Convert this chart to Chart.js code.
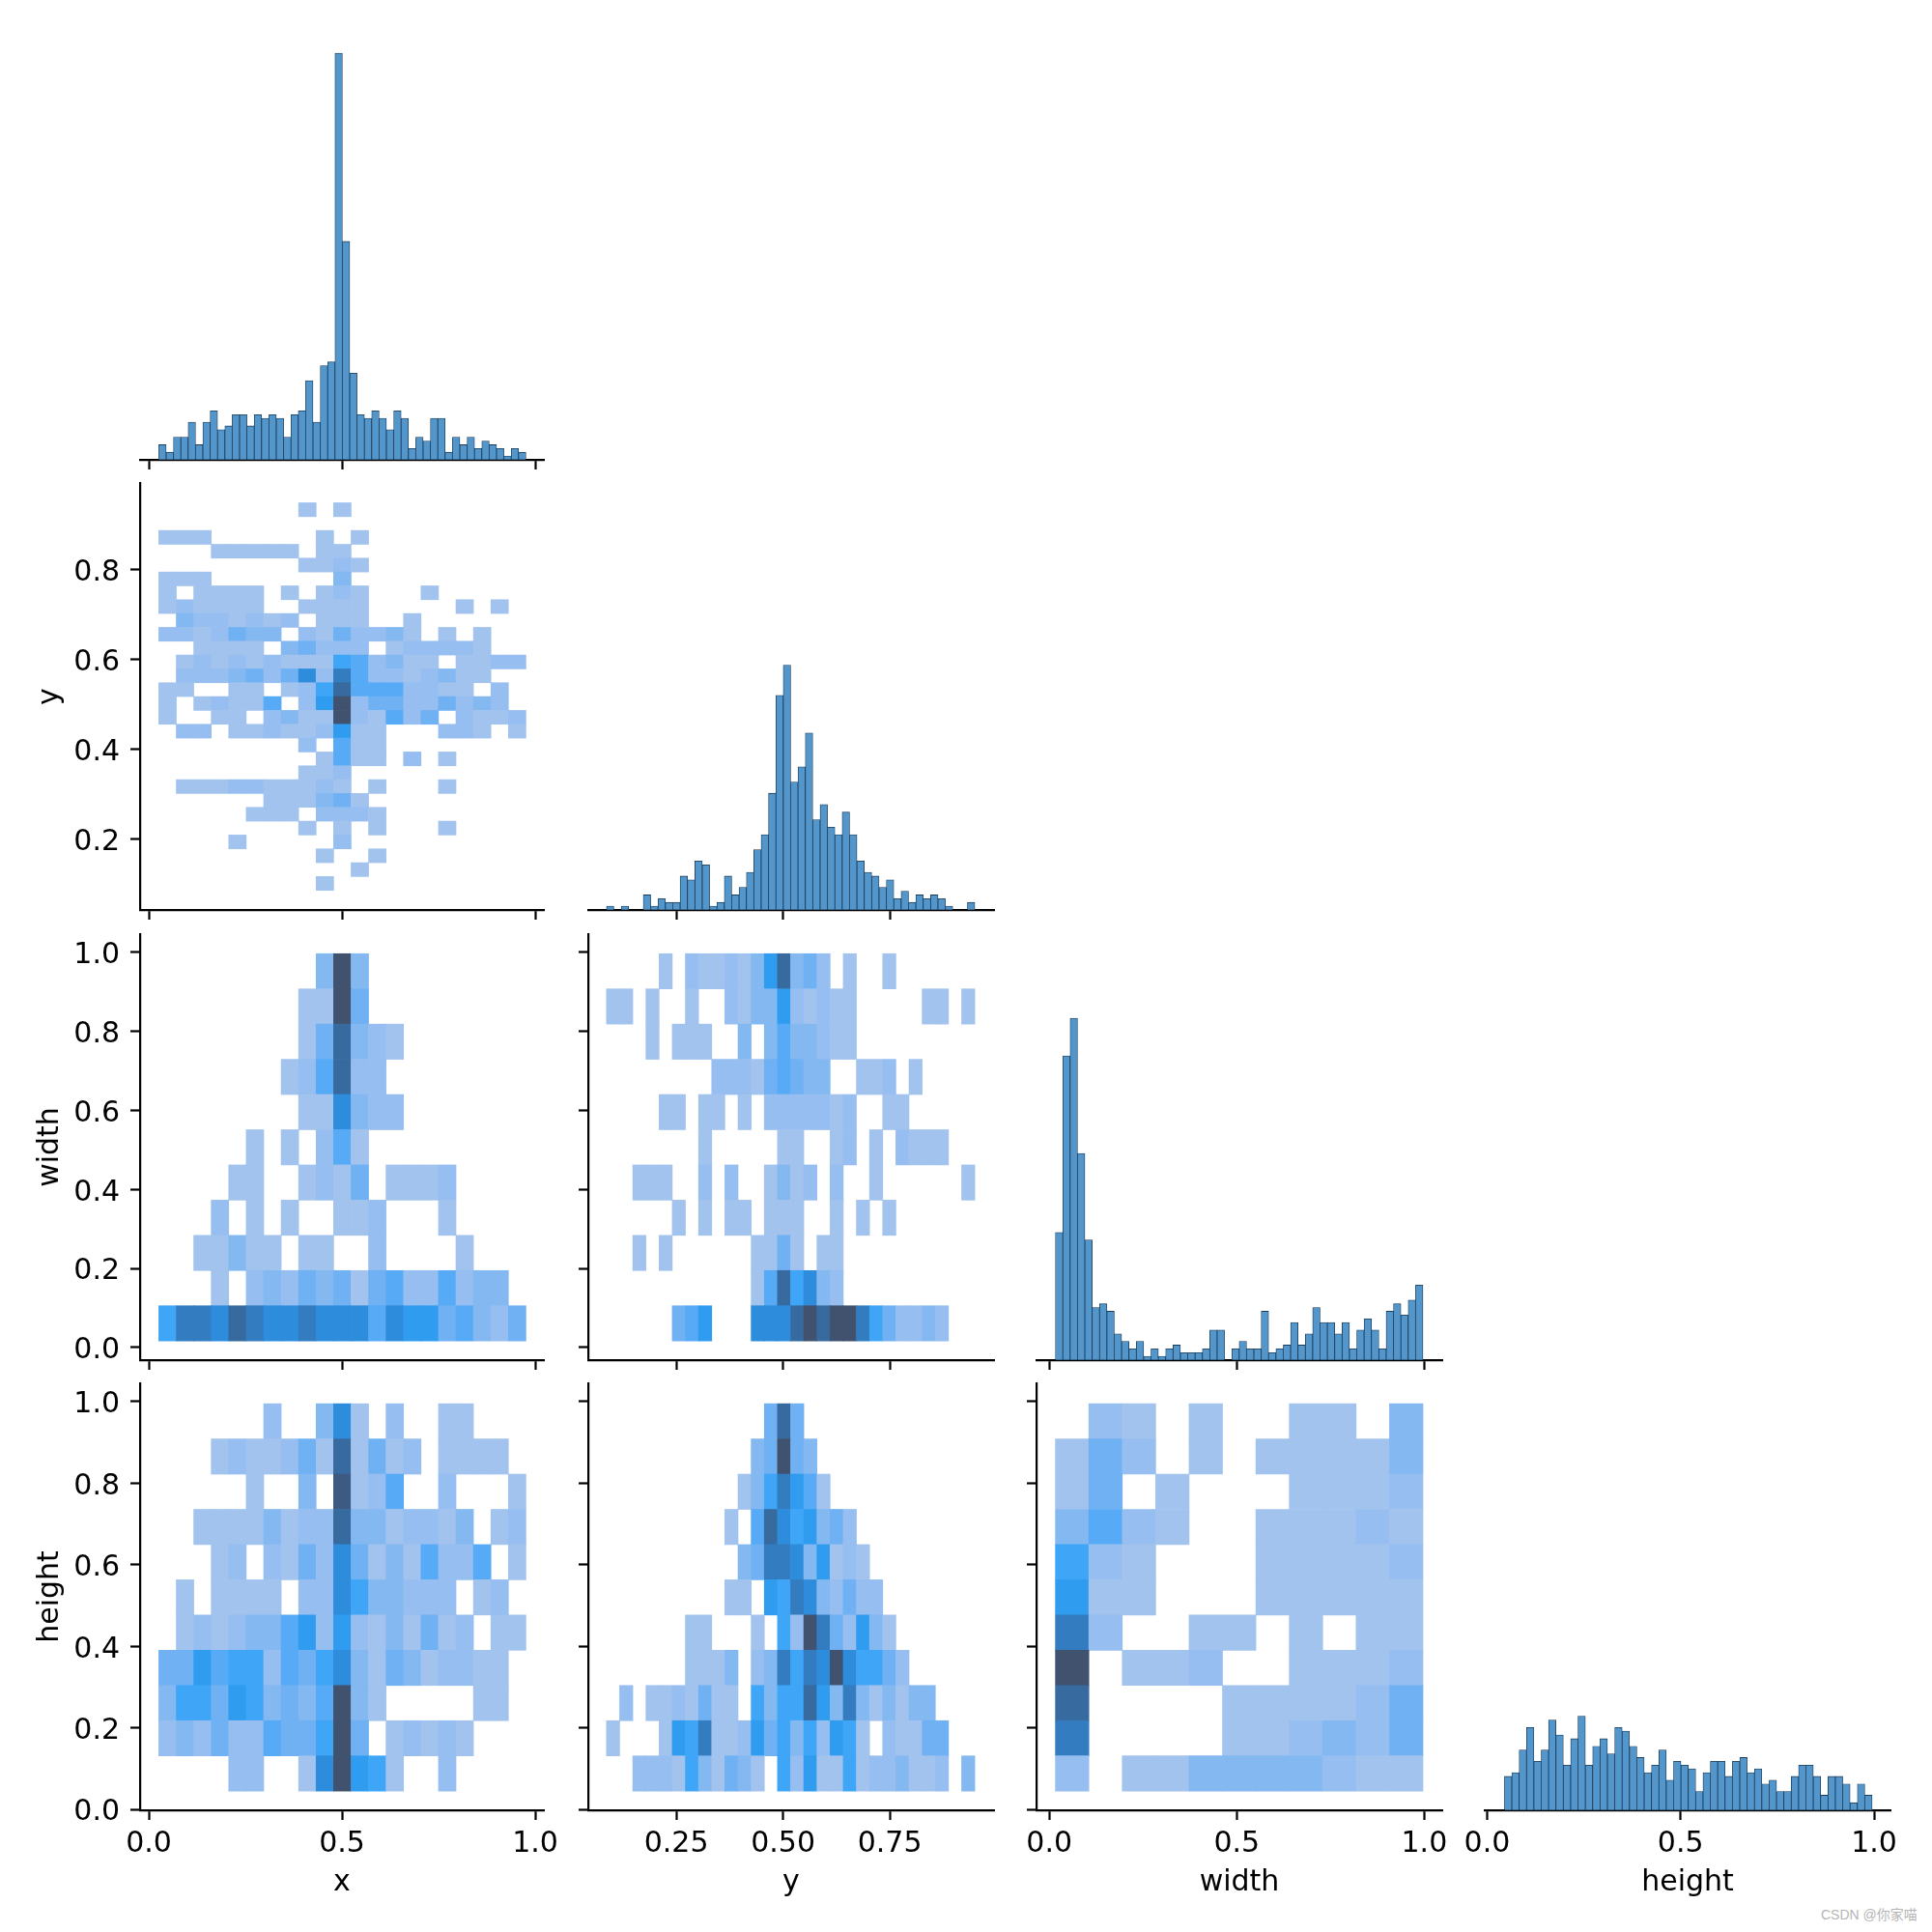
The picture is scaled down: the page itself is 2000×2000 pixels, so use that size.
<!DOCTYPE html>
<html>
<head>
<meta charset="utf-8">
<script src="https://cdn.jsdelivr.net/npm/chart.js@4"></script>
<style>
body { margin: 0; background: #fff; }
#wrap { position: relative; width: 2000px; height: 2000px; overflow: hidden; }
canvas { position: absolute; }
#mark { position: absolute; left: 1885px; top: 1971px; font: 14px "Liberation Sans", "Noto Sans CJK SC", sans-serif; color: #b4b4b4; white-space: nowrap; }
</style>
</head>
<body>
<div id="wrap"><div id="mark">CSDN @你家喵</div></div>
<script>
// histogram counts, 50 bins each
const xCounts = [4,2,6,6,10,4,10,13,8,9,12,12,9,12,11,12,11,6,12,13,21,10,25,26,108,58,23,12,11,13,11,8,13,11,3,6,5,11,11,2,6,4,6,3,5,4,3,1,3,2]
const yCounts = [1,0,1,0,0,4,1,3,2,2,9,8,13,12,1,2,9,4,6,10,16,20,31,57,65,34,38,47,24,28,22,20,26,20,13,10,9,6,8,3,5,2,4,3,4,3,1,0,0,2]
const widthCounts = [34,81,91,55,32,14,15,13,7,5,3,5,1,3,1,3,4,2,2,2,3,8,8,0,3,5,3,3,13,2,3,4,10,4,7,14,10,10,7,10,3,8,11,8,3,13,15,12,16,20]
const heightCounts = [9,10,16,22,13,16,24,20,12,19,25,12,17,19,15,22,21,17,14,10,12,16,8,13,12,11,5,10,13,13,9,13,14,10,11,7,8,5,5,9,12,12,9,4,9,9,7,2,7,4]
const diagRange = [0, 113.4]

// bin ranges
const xBins = [0.026, 0.976]
const yBins = [0.0866, 0.949]
const widthBins = [0.0165, 0.9965]
const heightBins = [0.045, 0.995]

// 2d histograms, shade level per cell, first row is the top one
const xyLevels = [
[0,0,0,0,0,0,0,0,1,0,1,0,0,0,0,0,0,0,0,0,0],
[0,0,0,0,0,0,0,0,0,0,0,0,0,0,0,0,0,0,0,0,0],
[1,1,1,0,0,0,0,0,0,1,0,1,0,0,0,0,0,0,0,0,0],
[0,0,0,1,1,1,1,1,0,1,1,0,0,0,0,0,0,0,0,0,0],
[0,0,0,0,0,0,0,0,1,1,2,1,0,0,0,0,0,0,0,0,0],
[1,1,1,0,0,0,0,0,0,0,3,0,0,0,0,0,0,0,0,0,0],
[1,0,1,1,1,1,0,1,0,1,2,1,0,0,0,1,0,0,0,0,0],
[1,2,1,1,1,1,0,0,1,1,1,1,0,0,0,0,0,1,0,1,0],
[0,3,2,2,1,2,1,2,0,1,1,1,0,0,1,0,0,0,0,0,0],
[2,2,1,2,4,3,3,0,2,1,4,2,2,3,1,0,1,0,1,0,0],
[0,0,1,1,1,1,0,3,4,2,2,2,0,1,2,2,2,2,1,0,0],
[0,1,2,1,2,1,2,1,1,1,6,5,2,3,1,1,0,1,1,2,2],
[0,2,2,2,3,4,2,4,8,2,9,5,2,2,1,2,3,1,1,0,0],
[1,1,0,0,1,1,0,1,2,6,10,5,5,5,2,2,1,1,0,2,0],
[1,0,1,2,1,1,5,0,2,7,12,2,4,4,2,2,4,2,3,2,0],
[1,0,0,1,1,0,2,3,1,1,12,2,1,5,2,4,0,2,1,1,2],
[0,2,2,0,1,1,2,1,1,2,7,1,1,0,0,0,2,2,1,0,1],
[0,0,0,0,0,0,0,0,2,0,5,1,1,0,0,0,0,0,0,0,0],
[0,0,0,0,0,0,0,0,0,1,5,1,1,0,2,0,1,0,0,0,0],
[0,0,0,0,0,0,0,0,1,1,2,0,0,0,0,0,0,0,0,0,0],
[0,1,1,1,2,2,1,1,1,2,1,0,1,0,0,0,1,0,0,0,0],
[0,0,0,0,0,0,1,1,1,3,4,1,0,0,0,0,0,0,0,0,0],
[0,0,0,0,0,1,1,1,0,2,2,2,1,0,0,0,0,0,0,0,0],
[0,0,0,0,0,0,0,0,1,0,1,0,1,0,0,0,1,0,0,0,0],
[0,0,0,0,1,0,0,0,0,0,2,0,0,0,0,0,0,0,0,0,0],
[0,0,0,0,0,0,0,0,0,1,0,0,1,0,0,0,0,0,0,0,0],
[0,0,0,0,0,0,0,0,0,0,0,1,0,0,0,0,0,0,0,0,0],
[0,0,0,0,0,0,0,0,0,1,0,0,0,0,0,0,0,0,0,0,0]
]
const xWidthLevels = [
[0,0,0,0,0,0,0,0,0,3,12,3,0,0,0,0,0,0,0,0,0],
[0,0,0,0,0,0,0,0,1,1,12,4,0,0,0,0,0,0,0,0,0],
[0,0,0,0,0,0,0,0,1,4,10,3,2,1,0,0,0,0,0,0,0],
[0,0,0,0,0,0,0,1,2,5,10,2,2,0,0,0,0,0,0,0,0],
[0,0,0,0,0,0,0,0,1,1,8,3,2,2,0,0,0,0,0,0,0],
[0,0,0,0,0,1,0,1,0,2,5,1,0,0,0,0,0,0,0,0,0],
[0,0,0,0,1,1,0,0,1,2,1,4,0,1,1,1,2,0,0,0,0],
[0,0,0,2,0,1,0,1,0,0,1,1,2,0,0,0,1,0,0,0,0],
[0,0,1,1,3,1,1,0,1,1,0,0,2,0,0,0,0,1,0,0,0],
[0,0,0,1,0,2,3,2,4,3,4,1,4,5,2,2,5,2,3,3,0],
[6,9,9,8,10,9,8,8,9,8,8,8,5,8,7,7,4,5,3,2,4]
]
const xHeightLevels = [
[0,0,0,0,0,0,2,0,0,3,8,1,0,2,0,0,1,1,0,0,0],
[0,0,0,1,2,1,1,2,4,1,10,1,4,1,2,0,1,1,1,1,0],
[0,0,0,0,0,1,0,0,3,0,11,1,2,5,0,0,2,0,0,0,1],
[0,0,1,1,1,1,3,1,2,2,10,3,3,1,2,2,1,3,0,1,2],
[0,0,0,1,2,0,2,1,4,2,8,4,1,3,1,5,2,2,5,0,1],
[0,1,0,1,1,1,1,0,2,2,8,6,3,3,2,2,2,0,1,2,0],
[0,1,2,1,2,3,3,5,7,2,7,2,1,3,1,4,1,2,0,1,1],
[4,4,7,5,6,6,2,5,4,6,8,3,1,4,3,1,2,2,1,1,0],
[3,6,6,4,7,6,3,4,3,5,12,3,1,0,0,0,0,0,1,1,0],
[2,3,2,4,2,2,5,4,4,6,12,4,0,1,2,1,2,1,0,0,0],
[0,0,0,0,2,2,0,0,1,8,12,7,6,1,0,0,2,0,0,0,0]
]
const yWidthLevels = [
[0,0,0,0,1,0,2,1,1,2,1,3,7,10,3,4,2,0,1,0,0,1,0,0,0,0,0,0],
[1,1,0,1,0,0,1,0,0,2,1,3,3,7,2,1,2,1,1,0,0,0,0,0,1,1,0,1],
[0,0,0,1,0,1,1,1,0,0,3,0,3,5,3,3,2,1,1,0,0,0,0,0,0,0,0,0],
[0,0,0,0,0,0,0,0,2,2,2,1,4,5,4,3,3,0,0,1,1,2,0,1,0,0,0,0],
[0,0,0,0,1,1,0,1,1,0,1,0,2,2,2,2,2,1,2,0,0,1,1,0,0,0,0,0],
[0,0,0,0,0,0,0,1,0,0,0,0,0,1,1,0,0,1,2,0,1,0,2,1,1,1,0,0],
[0,0,1,1,1,0,0,2,0,2,0,0,1,3,1,2,0,2,0,0,1,0,0,0,0,0,0,1],
[0,0,0,0,0,1,0,1,0,1,1,0,1,1,1,0,0,1,0,1,0,1,0,0,0,0,0,0],
[0,0,1,0,1,0,0,0,0,0,0,1,1,4,1,0,1,1,0,0,0,0,0,0,0,0,0,0],
[0,0,0,0,0,0,0,0,0,0,0,1,5,10,6,8,3,2,0,0,0,0,0,0,0,0,0,0],
[0,0,0,0,0,4,5,7,0,0,0,8,8,8,10,12,10,12,12,9,6,4,2,2,3,2,0,0]
]
const yHeightLevels = [
[0,0,0,0,0,0,0,0,0,0,0,0,4,10,4,0,0,0,0,0,0,0,0,0,0,0,0,0],
[0,0,0,0,0,0,0,0,0,0,0,3,4,12,4,3,0,0,0,0,0,0,0,0,0,0,0,0],
[0,0,0,0,0,0,0,0,0,0,1,3,6,9,7,5,1,0,0,0,0,0,0,0,0,0,0,0],
[0,0,0,0,0,0,0,0,0,1,0,5,10,8,6,7,3,4,2,0,0,0,0,0,0,0,0,0],
[0,0,0,0,0,0,0,0,0,0,3,4,9,9,8,3,7,1,2,1,0,0,0,0,0,0,0,0],
[0,0,0,0,0,0,0,0,0,1,1,0,7,6,9,8,3,2,4,2,2,0,0,0,0,0,0,0],
[0,0,0,0,0,0,1,1,0,0,0,1,0,6,2,12,9,4,2,7,3,1,0,0,0,0,0,0],
[0,0,0,0,0,0,1,1,1,3,0,2,3,9,6,9,8,12,8,6,6,4,2,0,0,0,0,0],
[0,2,0,1,1,2,1,4,1,1,0,6,3,6,6,10,7,3,9,3,1,3,1,3,3,0,0,0],
[1,0,0,0,1,7,6,9,1,1,2,7,4,6,3,6,2,7,6,1,0,2,1,1,4,4,0,0],
[0,0,2,2,2,1,6,3,1,4,3,1,0,6,2,7,1,1,6,1,2,2,3,1,1,2,0,3]
]
const widthHeightLevels = [
[0,2,1,0,1,0,0,1,1,0,3],
[1,4,2,0,1,0,1,1,1,1,3],
[1,4,0,1,0,0,0,1,1,1,2],
[3,5,2,1,0,0,1,1,1,2,1],
[6,2,1,0,0,0,1,1,1,1,2],
[7,1,1,0,0,0,1,1,1,1,1],
[9,2,0,0,1,1,0,1,0,1,1],
[12,0,1,1,2,0,0,1,1,1,2],
[10,0,0,0,0,1,1,1,1,2,4],
[9,0,0,0,0,1,1,2,3,2,4],
[2,0,1,1,3,3,3,3,2,1,1]
]

// shade per level, seaborn's light - bright - dark ramp
const levelColors = [null,'#a2c3ee','#96bef0','#84b8f1','#6fb1f3','#57aaf5','#3ea5f7','#2f9cef','#2e8cdc','#327cbf','#376ba0','#3d5b82','#41526e']

const tickFont = { family: 'DejaVu Sans', size: 30, lineHeight: 1.2 }
const titleFont = { family: 'DejaVu Sans', size: 30, lineHeight: 1 }

// panel edges on the page and axis ranges
const cols = [
    { l: 145, r: 563, min: -0.0225, max: 1.0225, ticks: [0, 0.5, 1], digits: 1, name: 'x' },
    { l: 609, r: 1029, min: 0.044, max: 0.994, ticks: [0.25, 0.5, 0.75], digits: 2, name: 'y' },
    { l: 1073, r: 1493, min: -0.034, max: 1.048, ticks: [0, 0.5, 1], digits: 1, name: 'width' },
    { l: 1537, r: 1957, min: -0.006, max: 1.0424, ticks: [0, 0.5, 1], digits: 1, name: 'height' }
]
const rows = [
    { t: 34, b: 476, min: 0, max: 113.4, ticks: [] },
    { t: 500, b: 942, min: 0.043, max: 0.993, ticks: [0.2, 0.4, 0.6, 0.8], name: 'y' },
    { t: 967, b: 1408, min: -0.032, max: 1.046, ticks: [0, 0.2, 0.4, 0.6, 0.8, 1], name: 'width' },
    { t: 1432, b: 1874, min: -0.002, max: 1.045, ticks: [0, 0.2, 0.4, 0.6, 0.8, 1], name: 'height' }
]

function panel(rowIdx, colIdx, datasets, isDiag) {
    const row = rows[rowIdx]
    const col = cols[colIdx]
    const bottomRow = rowIdx === 3
    const firstCol = colIdx === 0
    const leftW = firstCol ? 110 : 40
    const bottomH = bottomRow ? 92 : 20
    const padTop = 6
    const padRight = 50

    const canvas = document.createElement('canvas')
    canvas.width = col.r - col.l + leftW + padRight
    canvas.height = row.b - row.t + padTop + bottomH
    canvas.style.left = (col.l - leftW) + 'px'
    canvas.style.top = (row.t - padTop) + 'px'
    document.getElementById('wrap').appendChild(canvas)

    new Chart(canvas.getContext('2d'), {
        type: 'bar',
        data: { datasets: datasets },
        options: {
            responsive: false,
            animation: false,
            layout: { padding: { top: padTop, right: padRight, left: 0, bottom: 0 } },
            plugins: { legend: { display: false }, tooltip: { enabled: false } },
            scales: {
                x: {
                    type: 'linear',
                    min: col.min,
                    max: col.max,
                    offset: false,
                    afterBuildTicks: s => { s.ticks = col.ticks.map(v => ({ value: v })) },
                    afterFit: s => { s.height = bottomH; s.paddingLeft = 0; s.paddingRight = 0 },
                    border: { display: true, color: '#000', width: 2.2 },
                    grid: { display: true, offset: false, drawOnChartArea: false, drawTicks: true, tickLength: 10, tickWidth: 2.2, tickColor: '#000' },
                    ticks: {
                        display: bottomRow,
                        autoSkip: false,
                        maxRotation: 0,
                        minRotation: 0,
                        padding: 7,
                        color: '#000',
                        font: tickFont,
                        callback: v => v.toFixed(col.digits)
                    },
                    title: { display: bottomRow, text: col.name, color: '#000', font: titleFont, padding: { top: 0, bottom: 2 } }
                },
                y: {
                    type: 'linear',
                    min: isDiag ? diagRange[0] : row.min,
                    max: isDiag ? diagRange[1] : row.max,
                    afterBuildTicks: s => { s.ticks = isDiag ? [] : row.ticks.map(v => ({ value: v })) },
                    afterFit: s => { s.width = leftW; s.paddingTop = 0; s.paddingBottom = 0 },
                    border: { display: !isDiag, color: '#000', width: 2.2 },
                    grid: { display: !isDiag, drawOnChartArea: false, drawTicks: true, tickLength: 10, tickWidth: 2.2, tickColor: '#000' },
                    ticks: {
                        display: firstCol && !isDiag,
                        autoSkip: false,
                        padding: 11,
                        labelOffset: 3.5,
                        color: '#000',
                        font: tickFont,
                        callback: v => v.toFixed(1)
                    },
                    title: { display: firstCol && !isDiag, text: row.name, color: '#000', font: titleFont, padding: { top: 2, bottom: 0 } }
                }
            }
        }
    })
}

function histogram(rowIdx, colIdx, counts, bins) {
    const w = (bins[1] - bins[0]) / counts.length
    const points = counts.map((c, i) => ({ x: bins[0] + (i + 0.5) * w, y: c }))
    panel(rowIdx, colIdx, [{
        data: points,
        backgroundColor: '#5296cb',
        borderColor: '#1d3a55',
        borderWidth: 0.8,
        borderSkipped: false,
        barPercentage: 1,
        categoryPercentage: 1
    }], true)
}

function heatmap(rowIdx, colIdx, levels, xb, yb) {
    const w = (xb[1] - xb[0]) / levels[0].length
    const h = (yb[1] - yb[0]) / levels.length
    const points = []
    const colors = []
    levels.forEach((line, r) => {
        line.forEach((lv, c) => {
            if (lv > 0) {
                points.push({ x: xb[0] + (c + 0.5) * w, y: [yb[1] - (r + 1) * h, yb[1] - r * h] })
                colors.push(levelColors[lv])
            }
        })
    })
    panel(rowIdx, colIdx, [{
        data: points,
        backgroundColor: colors,
        borderWidth: 0,
        barPercentage: 1,
        categoryPercentage: 1
    }], false)
}

histogram(0, 0, xCounts, xBins)
heatmap(1, 0, xyLevels, xBins, yBins)
histogram(1, 1, yCounts, yBins)
heatmap(2, 0, xWidthLevels, xBins, widthBins)
heatmap(2, 1, yWidthLevels, yBins, widthBins)
histogram(2, 2, widthCounts, widthBins)
heatmap(3, 0, xHeightLevels, xBins, heightBins)
heatmap(3, 1, yHeightLevels, yBins, heightBins)
heatmap(3, 2, widthHeightLevels, widthBins, heightBins)
histogram(3, 3, heightCounts, heightBins)
</script>
</body>
</html>
